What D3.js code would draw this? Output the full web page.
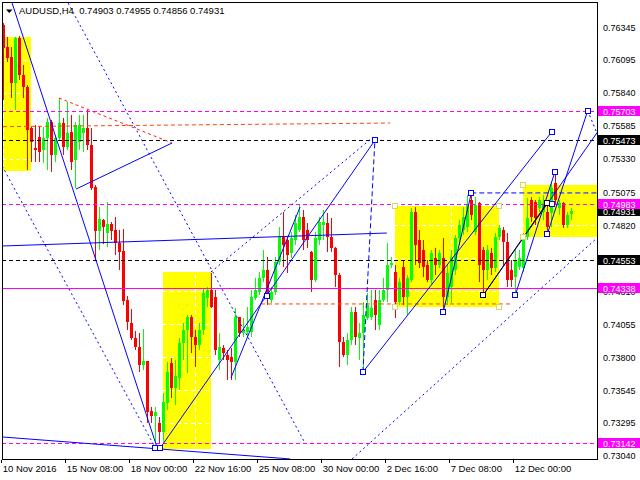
<!DOCTYPE html>
<html><head><meta charset="utf-8">
<script src="https://cdn.jsdelivr.net/npm/d3@7"></script>
<style>
body{margin:0;background:#fff}
svg{display:block}
text{font-family:"Liberation Sans",Arial,sans-serif;white-space:pre}
</style>
</head><body>
<svg id="c" width="640" height="480"></svg>
<script>
// ---------------- DATA ----------------
const symbol = "AUDUSD,H4";
const lastQuote = [0.74903, 0.74955, 0.74856, 0.74931];

const opens = [
0.76363,0.76193,0.76116,0.75916,0.76263,0.75977,0.75885,0.75569,0.75414,0.75499,
0.75399,0.75492,0.75615,0.75360,0.75492,0.75607,0.75422,0.75538,0.75322,0.75461,
0.75530,0.75569,0.75438,0.75114,0.74775,0.74859,0.74759,0.74829,0.74782,0.74682,
0.74620,0.74243,0.74065,0.73950,0.73880,0.73741,0.73772,0.73387,0.73348,0.73294,
0.73225,0.73448,0.73757,0.73564,0.73641,0.73911,0.74011,0.74111,0.73957,0.73896,
0.74011,0.74258,0.74320,0.74266,0.73780,0.73872,0.73818,0.73803,0.73765,0.74111,
0.73988,0.73996,0.73996,0.74258,0.74304,0.74412,0.74474,0.74243,0.74304,0.74536,
0.74728,0.74705,0.74605,0.74705,0.74782,0.74882,0.74782,0.74613,0.74397,0.74705,
0.74821,0.74836,0.74728,0.74643,0.74435,0.73919,0.73818,0.73934,0.74150,0.73950,
0.73988,0.74104,0.74111,0.74243,0.74050,0.74243,0.74320,0.74512,0.74458,0.74227,
0.74497,0.74266,0.74397,0.74921,0.74705,0.74628,0.74512,0.74397,0.74566,0.74512,
0.74566,0.74266,0.74343,0.74474,0.74721,0.74782,0.74805,0.75014,0.74767,0.74990,
0.74628,0.74474,0.74605,0.74489,0.74728,0.74782,0.74690,0.74474,0.74420,0.74497,
0.74489,0.74728,0.75014,0.74998,0.74952,0.74921,0.74921,0.74913,0.75145,0.74952,
0.74990,0.74821,0.74903];
const highs = [
0.76378,0.76270,0.76193,0.76270,0.76278,0.76054,0.75900,0.75576,0.75592,0.75584,
0.75576,0.75646,0.75630,0.75515,0.75800,0.75646,0.75769,0.75669,0.75615,0.75669,
0.75669,0.75707,0.75569,0.75129,0.74960,0.74867,0.74998,0.74844,0.74882,0.74782,
0.74790,0.74273,0.74173,0.74004,0.73988,0.74019,0.73775,0.73418,0.73418,0.73340,
0.73526,0.73765,0.73795,0.73780,0.73950,0.74065,0.74127,0.74127,0.74011,0.74065,
0.74335,0.74343,0.74451,0.74320,0.73988,0.73896,0.73857,0.73872,0.74181,0.74115,
0.74104,0.74189,0.74320,0.74412,0.74458,0.74628,0.74574,0.74343,0.74574,0.74805,
0.74921,0.74728,0.74767,0.74898,0.74975,0.74936,0.74836,0.74617,0.74767,0.74882,
0.74936,0.74913,0.74875,0.74650,0.74451,0.73957,0.73988,0.74189,0.74189,0.74065,
0.74227,0.74297,0.74320,0.74320,0.74320,0.74412,0.74682,0.74574,0.74512,0.74412,
0.74551,0.74435,0.74952,0.74960,0.74782,0.74705,0.74551,0.74628,0.74643,0.74628,
0.74721,0.74512,0.74628,0.74744,0.74859,0.74960,0.75052,0.75068,0.75037,0.74998,
0.74651,0.74667,0.74643,0.74759,0.74821,0.74805,0.74759,0.74551,0.74628,0.74628,
0.74759,0.75029,0.75037,0.75014,0.75037,0.75052,0.74990,0.75145,0.75229,0.75014,
0.74998,0.74921,0.74955];
const lows = [
0.75784,0.76078,0.75800,0.75707,0.75939,0.75800,0.75245,0.75307,0.75307,0.75307,
0.75299,0.75245,0.75229,0.75307,0.75476,0.75360,0.75399,0.75245,0.75106,0.75399,
0.75384,0.75399,0.75091,0.74551,0.74628,0.74674,0.74651,0.74705,0.74589,0.74474,
0.74204,0.74011,0.73934,0.73857,0.73687,0.73703,0.73294,0.73294,0.73142,0.73135,
0.73145,0.73394,0.73487,0.73433,0.73549,0.73780,0.73680,0.73834,0.73726,0.73857,
0.73973,0.74189,0.74181,0.73818,0.73703,0.73780,0.73626,0.73626,0.73626,0.73957,
0.73957,0.73950,0.73957,0.74243,0.74281,0.74381,0.74204,0.74219,0.74281,0.74512,
0.74497,0.74451,0.74566,0.74667,0.74767,0.74628,0.74643,0.74304,0.74381,0.74667,
0.74705,0.74613,0.74613,0.74343,0.73726,0.73803,0.73741,0.73896,0.73896,0.73780,
0.73695,0.74089,0.74089,0.74011,0.74011,0.74227,0.74227,0.74489,0.74104,0.74204,
0.74204,0.74127,0.74381,0.74512,0.74489,0.74420,0.74381,0.74358,0.74435,0.74489,
0.74152,0.74204,0.74219,0.74435,0.74667,0.74744,0.74767,0.74859,0.74744,0.74381,
0.74281,0.74397,0.74435,0.74458,0.74705,0.74512,0.74343,0.74343,0.74281,0.74474,
0.74458,0.74705,0.74844,0.74821,0.74921,0.74859,0.74751,0.74805,0.74975,0.74898,
0.74798,0.74798,0.74856];
const closes = [
0.76185,0.76108,0.75916,0.76263,0.75977,0.75885,0.75553,0.75461,0.75399,0.75384,
0.75492,0.75615,0.75360,0.75492,0.75607,0.75422,0.75530,0.75307,0.75592,0.75592,
0.75569,0.75438,0.75106,0.74775,0.74867,0.74805,0.74829,0.74775,0.74682,0.74613,
0.74235,0.74073,0.73950,0.73880,0.73741,0.73772,0.73379,0.73348,0.73379,0.73225,
0.73456,0.73687,0.73564,0.73657,0.73911,0.74011,0.74111,0.73957,0.73896,0.74011,
0.74297,0.74320,0.74189,0.73857,0.73880,0.73834,0.73780,0.73765,0.74111,0.73988,
0.74011,0.74034,0.74266,0.74320,0.74412,0.74474,0.74297,0.74304,0.74536,0.74728,
0.74667,0.74589,0.74721,0.74836,0.74882,0.74705,0.74705,0.74397,0.74721,0.74844,
0.74844,0.74728,0.74643,0.74435,0.73919,0.73818,0.73934,0.74150,0.73957,0.73988,
0.74127,0.74204,0.74181,0.74127,0.74243,0.74320,0.74512,0.74528,0.74227,0.74381,
0.74266,0.74412,0.74921,0.74667,0.74528,0.74497,0.74397,0.74605,0.74512,0.74605,
0.74266,0.74451,0.74574,0.74721,0.74821,0.74882,0.74975,0.74898,0.74975,0.74512,
0.74474,0.74628,0.74489,0.74728,0.74798,0.74690,0.74397,0.74397,0.74551,0.74566,
0.74744,0.74875,0.74882,0.74875,0.75014,0.74990,0.74805,0.75106,0.75014,0.74990,
0.74821,0.74898,0.74931];

const priceTicks = ["0.76345","0.76095","0.75840","0.75585","0.75330","0.75075","0.74820",
  "0.74565","0.74310","0.74055","0.73800","0.73545","0.73295","0.73040"];
const timeBars   = [0, 16, 32, 48, 64, 80, 96, 112, 128];
const timeLabels = ["10 Nov 2016","15 Nov 08:00","18 Nov 00:00","22 Nov 16:00","25 Nov 08:00",
  "30 Nov 00:00","2 Dec 16:00","7 Dec 08:00","12 Dec 00:00"];

// rectangles (bar from, bar to) / (price top, price bottom)
const boxBars   = [[-1, 6.9], [39.9, 51.9], [97.9, 123.9], [129.9, 152]];
const boxPrices = [[0.76270, 0.75237], [0.74458, 0.73094], [0.74967, 0.74192], [0.75129, 0.74728]];

// horizontal levels
const magentaDashedLevels = [0.75703, 0.74983, 0.73142];
const magentaSolidLevels  = [0.74338];
const blackDashedLevels   = [0.75473, 0.74553];

// trend lines [bar1, price1, bar2, price2]
const blueSolidLines = [
  [2.2, 0.76532, 38.4, 0.73109],
  [18.2, 0.75098, 42.2, 0.75453],
  [-0.1, 0.73186, 71.7, 0.73017],
  [-0.1, 0.74659, 95.9, 0.74759],
  [39.4, 0.73109, 92.9, 0.75473],
  [56.9, 0.73641, 74.2, 0.74960],
  [89.9, 0.73687, 137.1, 0.75538],
  [110.0, 0.74152, 117.0, 0.75065],
  [128.0, 0.74281, 137.9, 0.75230],
  [136.0, 0.74751, 146.1, 0.75702],
  [120.0, 0.74281, 148.6, 0.75539]
];
const blueDottedLines = [
  [16.2, 0.76532, 75.4, 0.73140],
  [-0.3, 0.75276, 37.9, 0.73109],
  [51.9, 0.74458, 92.2, 0.75492],
  [87.2, 0.73017, 148.4, 0.74720],
  [146.1, 0.75702, 148.4, 0.75530]
];
const blueDashedLines = [
  [89.9, 0.73687, 92.9, 0.75473],
  [117.0, 0.75068, 148.6, 0.75068]
];
const blackSolidLines  = [[120.0, 0.74281, 135.85, 0.74987]];
const redDottedLines   = [[13.9, 0.75800, 42.2, 0.75453]];
const orangeDashedLines = [[-0.1, 0.75579, 96.7, 0.75607], [64.4, 0.74212, 126.7, 0.74212]];

// anchor markers [bar, price]
const blueMarkers = [[38, 0.73101], [39.1, 0.73101], [66, 0.74273], [92.9, 0.75473], [89.9, 0.73687],
  [110, 0.74152], [117, 0.75065], [128, 0.74281], [136, 0.74751], [137.1, 0.74985],
  [137.9, 0.75230], [137.1, 0.75538], [146.1, 0.75702]];
const blackMarkers = [[120, 0.74281], [135.85, 0.74987]];
const boxMarkers = [[97.9, 0.74967], [123.9, 0.74967], [123.9, 0.74192], [97.9, 0.74192],
  [129.9, 0.75129], [129.9, 0.74728]];

// price tags on the axis
const magentaTags = [0.75703, 0.74983, 0.74338, 0.73142];
const blackTags   = [0.75473, 0.74553];

// ---------------- DRAW ----------------
const W = 640, H = 480, L = 2, R = 597, T = 2, B = 459;
const svg = d3.select("#c");
const x = d3.scaleLinear().domain([0, 142]).range([3.3, 571.3]);
const y = d3.scaleLinear().domain([0.730166, 0.765401]).range([B, T]);
const fmt = d3.format(".5f");
const GREEN = "#00ff00", RED = "#ff0000", BLUE = "#0000ff", MAG = "#ff00ff";

svg.append("rect").attr("width", W).attr("height", H).attr("fill", "#fff");
svg.append("defs").append("clipPath").attr("id", "clip")
  .append("rect").attr("x", L).attr("y", T).attr("width", R - L).attr("height", B - T);
const plot = svg.append("g").attr("clip-path", "url(#clip)");

// yellow rectangles
plot.append("g").attr("shape-rendering", "crispEdges").selectAll("rect")
  .data(d3.range(boxBars.length)).join("rect")
  .attr("x", i => Math.round(x(boxBars[i][0])))
  .attr("width", i => Math.round(x(boxBars[i][1])) - Math.round(x(boxBars[i][0])))
  .attr("y", i => Math.round(y(boxPrices[i][0])))
  .attr("height", i => Math.round(y(boxPrices[i][1])) - Math.round(y(boxPrices[i][0])))
  .attr("fill", "#ffff00");

// grid (white dashes, visible over the yellow areas)
const grid = plot.append("g").attr("shape-rendering", "crispEdges")
  .attr("stroke", "#fff").attr("stroke-dasharray", "4,3");
grid.selectAll(".h").data(priceTicks).join("line")
  .attr("x1", L).attr("x2", R)
  .attr("y1", d => Math.round(y(+d)) + 0.5).attr("y2", d => Math.round(y(+d)) + 0.5);
grid.selectAll(".v").data(timeBars).join("line")
  .attr("y1", T).attr("y2", B)
  .attr("x1", d => Math.round(x(d)) + 0.5).attr("x2", d => Math.round(x(d)) + 0.5);

// candles
const bars = d3.range(opens.length).map(i => ({i, o: opens[i], h: highs[i], l: lows[i], c: closes[i]}));
const cg = plot.append("g").attr("shape-rendering", "crispEdges");
cg.selectAll("line").data(bars).join("line")
  .attr("x1", d => Math.round(x(d.i)) + 0.5).attr("x2", d => Math.round(x(d.i)) + 0.5)
  .attr("y1", d => y(d.h)).attr("y2", d => y(d.l))
  .attr("stroke", d => d.c >= d.o ? GREEN : RED);
cg.selectAll("rect").data(bars).join("rect")
  .attr("x", d => Math.round(x(d.i)) - 1).attr("width", 3)
  .attr("y", d => y(Math.max(d.o, d.c)))
  .attr("height", d => Math.max(1, Math.abs(y(d.o) - y(d.c))))
  .attr("fill", d => d.c >= d.o ? GREEN : RED);

// horizontal levels
function levels(arr, color, dash) {
  plot.append("g").attr("shape-rendering", "crispEdges").selectAll("line").data(arr).join("line")
    .attr("x1", L).attr("x2", R)
    .attr("y1", d => Math.round(y(d)) + 0.5).attr("y2", d => Math.round(y(d)) + 0.5)
    .attr("stroke", color).attr("stroke-dasharray", dash);
}
levels(blackDashedLevels, "#000", "4,3");
levels(magentaDashedLevels, MAG, "4,3");
levels(magentaSolidLevels, MAG, null);

// trend lines
function segs(arr, color, dash) {
  plot.append("g").selectAll("line").data(arr).join("line")
    .attr("x1", d => x(d[0])).attr("y1", d => y(d[1]))
    .attr("x2", d => x(d[2])).attr("y2", d => y(d[3]))
    .attr("stroke", color).attr("stroke-width", 1).attr("stroke-dasharray", dash)
    .attr("fill", "none");
}
segs(orangeDashedLines, "#ff4500", "4,3");
segs(redDottedLines, "#ff2200", "3,3");
segs(blueDottedLines, BLUE, "2,3");
segs(blueDashedLines, BLUE, "5,3");
segs(blueSolidLines, BLUE, null);
segs(blackSolidLines, "#000", null);

// anchor markers
function markers(arr, color) {
  plot.append("g").attr("shape-rendering", "crispEdges").selectAll("rect").data(arr).join("rect")
    .attr("x", d => Math.round(x(d[0])) - 2.5).attr("y", d => Math.round(y(d[1])) - 2.5)
    .attr("width", 5).attr("height", 5).attr("fill", "#fff").attr("stroke", color);
}
markers(boxMarkers, "#d8d860");
markers(blackMarkers, "#000");
markers(blueMarkers, BLUE);

// frame
svg.append("path").attr("d", `M${L + 0.5},${T + 0.5}H${R + 0.5}V${B + 0.5}H${L + 0.5}Z`)
  .attr("fill", "none").attr("stroke", "#000").attr("shape-rendering", "crispEdges");

// time axis
const tx = svg.append("g");
tx.selectAll("line").data(timeBars).join("line")
  .attr("x1", d => Math.round(x(d)) - 1.5).attr("x2", d => Math.round(x(d)) - 1.5)
  .attr("y1", B + 1).attr("y2", B + 4).attr("stroke", "#000").attr("shape-rendering", "crispEdges");
tx.selectAll("text").data(timeBars).join("text")
  .attr("x", d => x(d) - 0.6).attr("y", 471.5)
  .attr("font-size", "9.5px").attr("fill", "#000")
  .text((d, i) => timeLabels[i]);

// price axis labels (a label fully hidden under a price tag, as in the reference, is not drawn)
const allTags = magentaTags.concat(blackTags, [lastQuote[3]]);
const visibleTicks = priceTicks.filter(d => d3.min(allTags, t => Math.abs(y(t) - y(+d))) > 3);
svg.append("g").selectAll("text").data(visibleTicks).join("text")
  .attr("x", 603).attr("y", d => y(+d) + 3.5)
  .attr("font-size", "9px").attr("fill", "#000").text(d => d);

// price tags
function tags(arr, color) {
  const g = svg.append("g");
  g.selectAll("rect").data(arr).join("rect")
    .attr("x", R + 1).attr("width", W - R - 1)
    .attr("y", d => Math.round(y(d)) - 5).attr("height", 10)
    .attr("fill", color).attr("shape-rendering", "crispEdges");
  g.selectAll("text").data(arr).join("text")
    .attr("x", 603).attr("y", d => Math.round(y(d)) + 3.5)
    .attr("font-size", "9px").attr("fill", "#fff").text(d => fmt(d));
}
tags(blackTags, "#000");
tags([lastQuote[3]], "#000");
tags(magentaTags, MAG);

// title
svg.append("path").attr("d", "M6,9.5L12.5,9.5L9.25,13Z").attr("fill", "#000");
svg.append("text").attr("x", 19).attr("y", 13.5).attr("font-size", "9.5px").attr("fill", "#000")
  .text(symbol + "  " + lastQuote.map(fmt).join(" "));
</script>
</body></html>
